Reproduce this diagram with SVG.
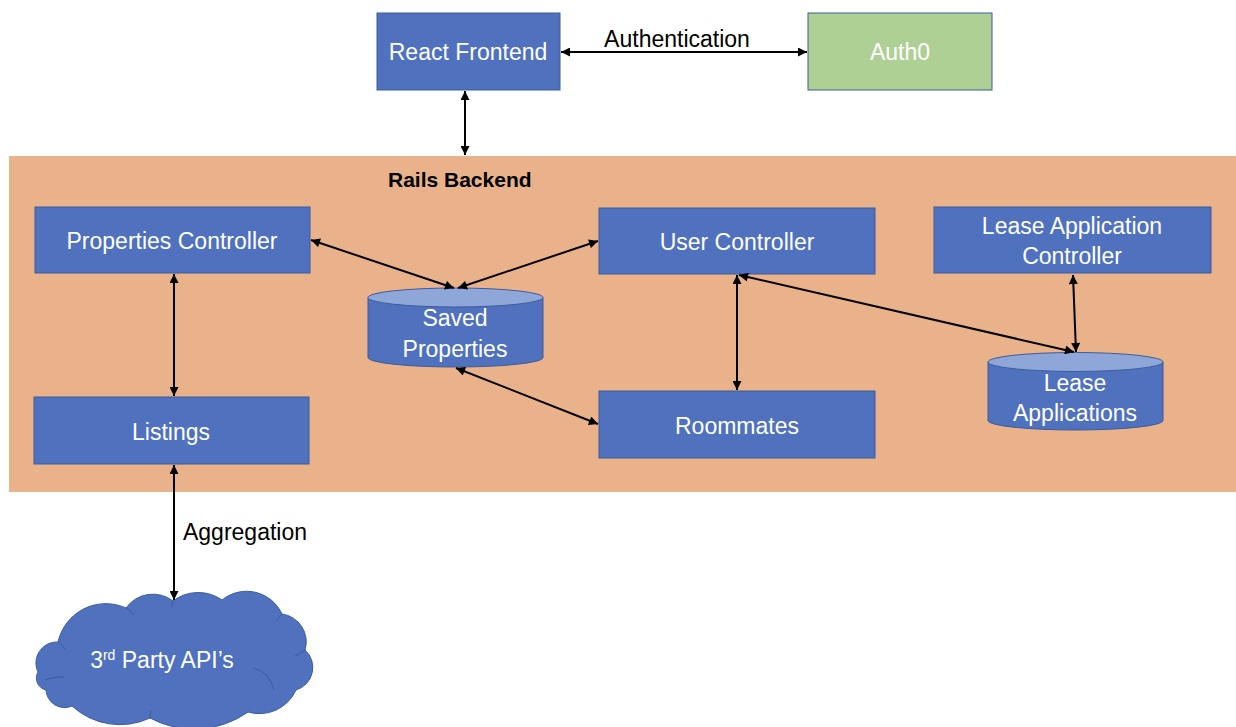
<svg xmlns="http://www.w3.org/2000/svg" width="1236" height="727" viewBox="0 0 1236 727">
<style>
.box{fill:#4F71BE;stroke:#3B5C9B;stroke-width:1}
.green{fill:#AFD095;stroke:#3B5C9B;stroke-width:1}
.cyl{fill:#4F71BE;stroke:#3B5C9B;stroke-width:1}
.cyltop{fill:#8FA7D8;stroke:#3B5C9B;stroke-width:1}
.wt{font-family:"Liberation Sans",Arial,sans-serif;font-size:23px;fill:#ffffff;text-anchor:middle}
.bt{font-family:"Liberation Sans",Arial,sans-serif;font-size:23px;fill:#000000;text-anchor:middle}
.conn{stroke:#000;stroke-width:2;fill:none;marker-start:url(#ah);marker-end:url(#ah)}
</style>
<defs>
<marker id="ah" viewBox="0 0 10 10" refX="10" refY="5" markerWidth="10" markerHeight="9" markerUnits="userSpaceOnUse" orient="auto-start-reverse">
<path d="M0,0 L10,5 L0,10 z" fill="#000"/>
</marker>
</defs>
<rect width="1236" height="727" fill="#ffffff"/>
<g id="backend">
<rect x="9" y="156" width="1227" height="336" fill="#E9B28A"/>
<text x="388" y="187" font-family="'Liberation Sans',Arial,sans-serif" font-size="21" font-weight="bold" fill="#000">Rails Backend</text>
</g>
<g id="react-frontend">
<rect class="box" x="377" y="13" width="183" height="77"/>
<text class="wt" x="468" y="60">React Frontend</text>
</g>
<g id="auth0">
<rect class="green" x="808" y="13" width="184" height="77"/>
<text class="wt" x="900" y="60">Auth0</text>
</g>
<g id="properties-controller">
<rect class="box" x="35" y="207" width="275" height="66"/>
<text class="wt" x="172" y="249">Properties Controller</text>
</g>
<g id="user-controller">
<rect class="box" x="599" y="208" width="276" height="66"/>
<text class="wt" x="737" y="250">User Controller</text>
</g>
<g id="lease-application-controller">
<rect class="box" x="934" y="207" width="277" height="66"/>
<text class="wt" x="1072" y="234">Lease Application</text>
<text class="wt" x="1072" y="264">Controller</text>
</g>
<g id="listings">
<rect class="box" x="34" y="397" width="275" height="67"/>
<text class="wt" x="171" y="440">Listings</text>
</g>
<g id="roommates">
<rect class="box" x="599" y="391" width="276" height="67"/>
<text class="wt" x="737" y="434">Roommates</text>
</g>
<g id="saved-properties">
<path class="cyl" d="M368,297.5 L368,357.5 A87.5,9.5 0 0 0 543,357.5 L543,297.5 Z"/>
<ellipse class="cyltop" cx="455.5" cy="297.5" rx="87.5" ry="9.5"/>
<text class="wt" x="455" y="326">Saved</text>
<text class="wt" x="455" y="357">Properties</text>
</g>
<g id="lease-applications">
<path class="cyl" d="M988,362 L988,420.5 A87.5,9.5 0 0 0 1163,420.5 L1163,362 Z"/>
<ellipse class="cyltop" cx="1075.5" cy="362" rx="87.5" ry="9.5"/>
<text class="wt" x="1075" y="391">Lease</text>
<text class="wt" x="1075" y="421">Applications</text>
</g>
<g id="third-party-apis">
<path fill="#4F71BE" stroke="#3B5C9B" stroke-width="1" d="M38,672 A21,21 0 0 1 58,642 A49,49 0 0 1 126,608 A33,33 0 0 1 173,601 A41.5,41.5 0 0 1 222,600 A39,39 0 0 1 282,614 A28,28 0 0 1 305,650 A23.5,23.5 0 0 1 296,690 A40,40 0 0 1 248,712 A93,93 0 0 1 150,718 A71,71 0 0 1 72,706 A18.5,18.5 0 0 1 46,690 A12.2,12.2 0 0 1 38,672 Z"/>
<g fill="none" stroke="#3B5C9B" stroke-width="1">
<path d="M126,608 Q131,610 134,615"/>
<path d="M173,601 Q172,604 172,607"/>
<path d="M282,614 Q279,617 277,621"/>
<path d="M305,650 Q300,654 295,656"/>
<path d="M253,668 Q270,672 274,690"/>
<path d="M58,642 Q62,645 65,649"/>
<path d="M45,680 Q55,676 64,677"/>
<path d="M150,718 Q150,714 151,711"/>
</g>
<text class="wt" x="162" y="668">3<tspan font-size="14" dy="-8">rd</tspan><tspan dy="8"> Party API’s</tspan></text>
</g>
<g id="connectors">
<line class="conn" x1="561" y1="52" x2="807" y2="52"/>
<line class="conn" x1="465" y1="91" x2="465" y2="155"/>
<line class="conn" x1="311" y1="240" x2="454" y2="288"/>
<line class="conn" x1="598" y1="241" x2="458" y2="288"/>
<line class="conn" x1="456" y1="368" x2="598" y2="424"/>
<line class="conn" x1="174" y1="274" x2="174" y2="396"/>
<line class="conn" x1="174" y1="465" x2="174" y2="600"/>
<line class="conn" x1="737" y1="275" x2="737" y2="390"/>
<line class="conn" x1="739" y1="275" x2="1074" y2="352"/>
<line class="conn" x1="1073" y1="275" x2="1076" y2="352"/>
</g>
<g id="labels">
<text class="bt" x="677" y="47">Authentication</text>
<text class="bt" x="245" y="540">Aggregation</text>
</g>
</svg>
